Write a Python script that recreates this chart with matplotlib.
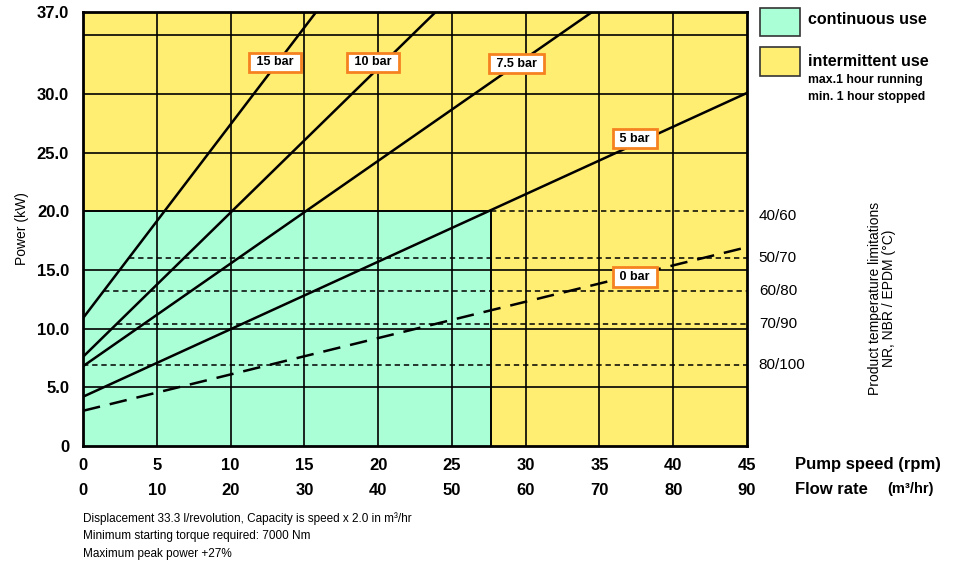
import matplotlib.pyplot as plt
from matplotlib.patches import Rectangle

plt.rcParams['font.family'] = ['Liberation Sans', 'DejaVu Sans']

# axes ranges
speed_max = 45
power_max = 37

# pressure lines, two end points each (speed rpm, power kW)
line_labels = ["15 bar", "10 bar", "7.5 bar", "5 bar", "0 bar"]
line_speeds = [[0, 15.8], [0, 23.9], [0, 34.5], [0, 45], [0, 45]]
line_powers = [[10.9, 37], [7.6, 37], [6.8, 37], [4.2, 30.1], [3.0, 16.95]]
label_pos = [(13.0, 32.7), (19.65, 32.7), (29.4, 32.6), (37.4, 26.2), (37.4, 14.4)]

# continuous use region
cont_speed = 27.65
cont_power = 20

# product temperature limits
temp_labels = ["40/60", "50/70", "60/80", "70/90", "80/100"]
temp_power = [20, 16.0, 13.2, 10.4, 6.9]
temp_start = [27.65, 3.1, 1.4, 2.3, 0.0]

y_ticks = [0, 5, 10, 15, 20, 25, 30, 37]
y_ticklabels = ["0", "5.0", "10.0", "15.0", "20.0", "25.0", "30.0", "37.0"]
y_grid = [5, 10, 15, 25, 30, 35]
speed_ticks = [0, 5, 10, 15, 20, 25, 30, 35, 40, 45]
flow_ticks = [0, 10, 20, 30, 40, 50, 60, 70, 80, 90]

yellow = "#FFEE72"
green = "#AAFFD6"
orange = "#F58220"

fig = plt.figure(figsize=(9.62, 5.66), dpi=100)
ax = fig.add_axes([83 / 962, 1 - 446 / 566, 664 / 962, 434 / 566])
ax.set_xlim(0, speed_max)
ax.set_ylim(0, power_max)
ax.set_facecolor(yellow)

ax.add_patch(Rectangle((0, 0), cont_speed, cont_power, facecolor=green,
                       edgecolor="none", zorder=1))

for x in speed_ticks[1:-1]:
    ax.axvline(x, color="black", lw=1.2, zorder=2)
for y in y_grid:
    ax.axhline(y, color="black", lw=1.2, zorder=2)

# boundary of continuous region
ax.plot([0, cont_speed, cont_speed], [cont_power, cont_power, 0],
        color="black", lw=1.4, zorder=3)

# temperature limit lines
for p, s in zip(temp_power, temp_start):
    ax.plot([s, speed_max], [p, p], color="black", lw=1.1,
            linestyle=(0, (3.5, 2.5)), zorder=3)
for p, t in zip(temp_power, temp_labels):
    off = -0.4 if p == cont_power else 0
    ax.text(speed_max + 0.8, p + off, t, fontsize=11,
            va="center", ha="left", clip_on=False)

for lab, xs, ys in zip(line_labels, line_speeds, line_powers):
    ls = (0, (7, 4)) if lab == "0 bar" else "-"
    ax.plot(xs, ys, color="black", lw=1.8, linestyle=ls, zorder=4)

for lab, (x, y) in zip(line_labels, label_pos):
    ax.text(x, y, f" {lab} ", fontsize=9, fontweight="bold", ha="center",
            va="center", zorder=6,
            bbox=dict(boxstyle="square,pad=0.3", facecolor="white",
                      edgecolor=orange, lw=2))

for sp in ax.spines.values():
    sp.set_linewidth(2)
    sp.set_zorder(7)

ax.set_yticks(y_ticks)
ax.set_yticklabels(y_ticklabels, fontsize=12, fontweight="bold")
ax.set_xticks(speed_ticks)
ax.set_xticklabels([str(v) for v in speed_ticks], fontsize=12, fontweight="bold")
ax.tick_params(axis="both", length=0)
ax.tick_params(axis="x", pad=9)
ax.tick_params(axis="y", pad=10)
ax.set_ylabel("Power (kW)", fontsize=10, labelpad=6)

sec = ax.secondary_xaxis(-0.0553, functions=(lambda s: s * 2, lambda f: f / 2))
sec.set_xticks(flow_ticks)
sec.set_xticklabels([str(v) for v in flow_ticks], fontsize=12, fontweight="bold")
sec.tick_params(length=0, pad=9)
sec.spines["bottom"].set_visible(False)

fig.text(795 / 962, 1 - 465 / 566, "Pump speed (rpm)", fontsize=12,
         fontweight="bold", va="center", ha="left")
fig.text(795 / 962, 1 - 489 / 566, "Flow rate", fontsize=12,
         fontweight="bold", va="center", ha="left")
fig.text(887 / 962, 1 - 489 / 566, "(m\u00b3/hr)", fontsize=10.5,
         fontweight="bold", va="center", ha="left")

# legend
fig.patches.append(Rectangle((760 / 962, 1 - 36 / 566), 40 / 962, 28 / 566,
                             transform=fig.transFigure, facecolor=green,
                             edgecolor="#333333", lw=1.2))
fig.patches.append(Rectangle((760 / 962, 1 - 76 / 566), 40 / 962, 29 / 566,
                             transform=fig.transFigure, facecolor=yellow,
                             edgecolor="#333333", lw=1.2))
fig.text(808 / 962, 1 - 20 / 566, "continuous use", fontsize=11.5,
         fontweight="bold", va="center")
fig.text(808 / 962, 1 - 62 / 566, "intermittent use", fontsize=11.5,
         fontweight="bold", va="center")
fig.text(808 / 962, 1 - 80 / 566, "max.1 hour running", fontsize=8.8,
         fontweight="bold", va="center")
fig.text(808 / 962, 1 - 97 / 566, "min. 1 hour stopped", fontsize=8.8,
         fontweight="bold", va="center")

fig.text(882 / 962, 1 - 298 / 566,
         "Product temperature limitations\nNR, NBR / EPDM (\u00b0C)",
         fontsize=10, rotation=90, ha="center", va="center", linespacing=1.0)

notes = ["Displacement 33.3 l/revolution, Capacity is speed x 2.0 in m\u00b3/hr",
         "Minimum starting torque required: 7000 Nm",
         "Maximum peak power +27%"]
for i, n in enumerate(notes):
    fig.text(83 / 962, 1 - (519 + 17.5 * i) / 566, n, fontsize=8.5,
             va="center", ha="left")

fig.savefig("out.png", dpi=100)
